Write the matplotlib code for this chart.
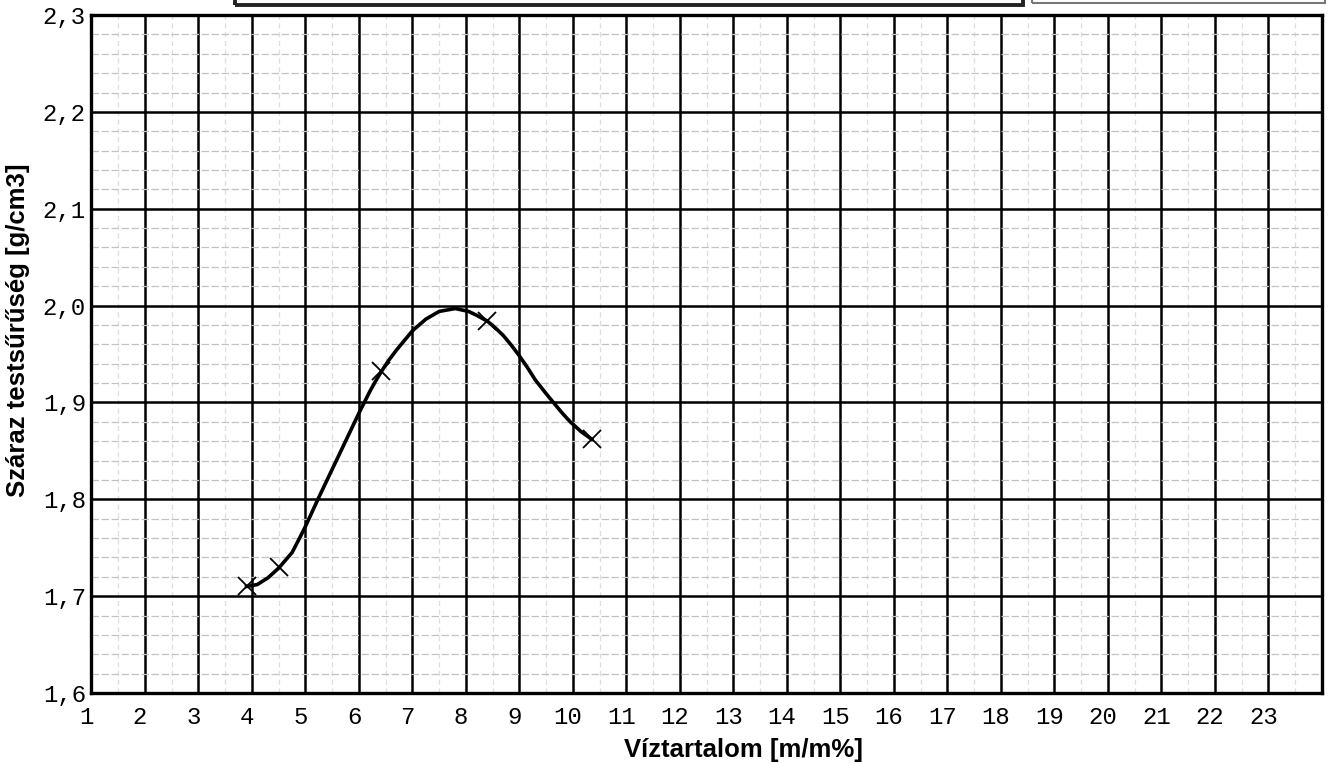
import matplotlib
matplotlib.use("Agg")
import matplotlib.pyplot as plt
from matplotlib.ticker import MultipleLocator, FuncFormatter
from matplotlib.transforms import ScaledTranslation
from matplotlib.patches import Rectangle

# measured points (crosses)
water = [3.9, 4.5, 6.42, 8.4, 10.35]
density = [1.71, 1.73, 1.932, 1.984, 1.862]

# hand-drawn trend curve
curve_x = [3.9, 4.1, 4.3, 4.5, 4.75, 4.9, 5.0, 5.25, 5.5, 5.75, 6.0, 6.1,
           6.2, 6.3, 6.42, 6.55, 6.7, 6.85, 7.0, 7.25, 7.5, 7.8, 8.05, 8.2,
           8.4, 8.55, 8.7, 8.85, 9.0, 9.15, 9.3, 9.5, 9.65, 9.8, 9.95,
           10.15, 10.35]
curve_y = [1.710, 1.712, 1.719, 1.729, 1.745, 1.761, 1.772, 1.802, 1.831,
           1.860, 1.889, 1.900, 1.911, 1.921, 1.932, 1.943, 1.954, 1.964,
           1.974, 1.986, 1.994, 1.997, 1.994, 1.990, 1.984, 1.977, 1.969,
           1.959, 1.948, 1.936, 1.923, 1.909, 1.899, 1.889, 1.880, 1.870,
           1.862]

x_ticks = list(range(1, 24))


def main():
    fig = plt.figure(figsize=(13.29, 7.63), dpi=100)
    ax = fig.add_axes([0.0688, 0.0917, 0.9259, 0.8886])

    ax.set_xlim(1, 24)
    ax.set_ylim(1.6, 2.3)

    ax.xaxis.set_major_locator(MultipleLocator(1))
    ax.xaxis.set_minor_locator(MultipleLocator(0.5))
    ax.yaxis.set_major_locator(MultipleLocator(0.1))
    ax.yaxis.set_minor_locator(MultipleLocator(0.02))

    ax.set_xticks(x_ticks + [24])
    ax.set_xticklabels([str(t) for t in x_ticks] + [""])
    ax.yaxis.set_major_formatter(
        FuncFormatter(lambda v, p: f"{v:.1f}".replace(".", ",")))

    ax.grid(which="major", color="black", lw=1.8)
    ax.grid(which="minor", axis="y", color="#c2c2c2", lw=0.9,
            linestyle=(0, (6, 2)))
    ax.grid(which="minor", axis="x", color="#dedede", lw=0.9,
            linestyle=(0, (4, 3)))
    ax.set_axisbelow(True)

    ax.tick_params(which="both", length=0, labelsize=17.3)
    ax.tick_params(axis="x", pad=9)
    ax.tick_params(axis="y", pad=4)
    for lab in ax.get_xticklabels() + ax.get_yticklabels():
        lab.set_fontfamily("Liberation Mono")
    offset = ScaledTranslation(-5 / 100, 0, fig.dpi_scale_trans)
    for lab in ax.get_xticklabels():
        lab.set_transform(lab.get_transform() + offset)

    for sp in ax.spines.values():
        sp.set_linewidth(2.4)
        sp.set_color("black")

    ax.plot(curve_x, curve_y, color="black", lw=2.6, zorder=3,
            solid_joinstyle="round")
    ax.plot(water, density, "x", color="black", ms=13, mew=1.3, zorder=4)

    fig.text(743 / 1329, 1 - 750 / 763, "Víztartalom [m/m%]",
             ha="center", va="center", fontsize=18.5, fontweight="bold",
             family="Liberation Sans")
    fig.text(18 / 1329, 1 - 330 / 763, "Száraz testsűrűség [g/cm3]",
             ha="center", va="center", rotation=90, fontsize=18.5,
             fontweight="bold", family="Liberation Sans")

    # edges of the table above the chart on the scanned page
    fig.patches.append(Rectangle((235 / 1329, 1 - 5 / 763), 788 / 1329,
                                 0.05, transform=fig.transFigure,
                                 fill=False, lw=2.8, edgecolor="#222222"))
    fig.patches.append(Rectangle((1032 / 1329, 1 - 3 / 763), 293 / 1329,
                                 0.05, transform=fig.transFigure,
                                 fill=False, lw=1.5, edgecolor="#777777"))

    fig.savefig("out.png", dpi=100, facecolor="white")


if __name__ == "__main__":
    main()
